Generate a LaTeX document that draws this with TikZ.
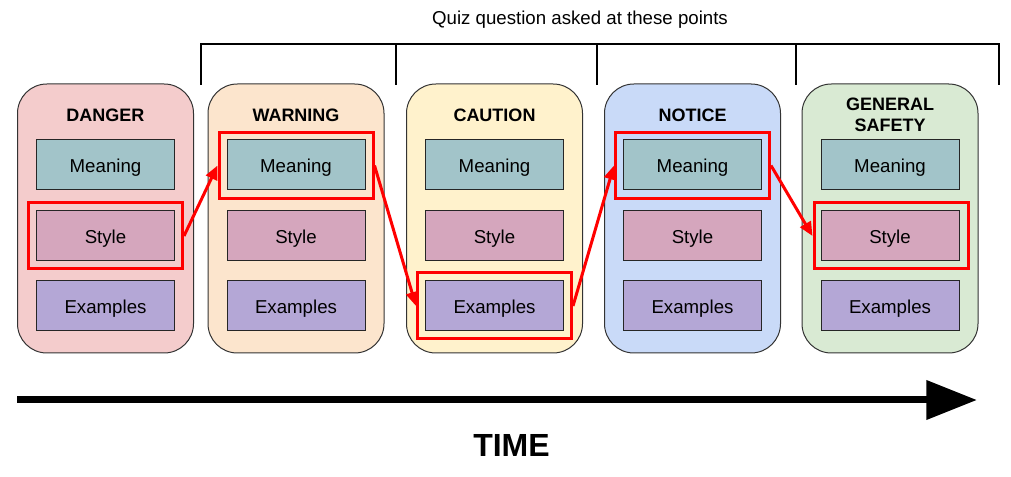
\documentclass[tikz,border=0pt]{standalone}
\usepackage{fontspec}
\setmainfont{Liberation Sans}
\usetikzlibrary{arrows.meta}
\definecolor{dangerbg}{HTML}{F4CCCC}
\definecolor{warningbg}{HTML}{FCE5CD}
\definecolor{cautionbg}{HTML}{FFF2CC}
\definecolor{noticebg}{HTML}{C9DAF8}
\definecolor{generalbg}{HTML}{D9EAD3}
\definecolor{meaningc}{HTML}{A2C4C9}
\definecolor{stylec}{HTML}{D5A6BD}
\definecolor{examplec}{HTML}{B4A7D6}
\begin{document}
\begin{tikzpicture}[x=0.75pt, y=-0.75pt,
    sign/.style = {draw=black!80, fill=#1, rounded corners=22pt, line width=0.75pt, minimum width=132pt, minimum height=201.75pt},
    cell/.style = {draw=black!85, fill=#1, line width=0.75pt, minimum width=103.5pt, minimum height=37.5pt, text height=12pt, text depth=0pt, font=\fontsize{14}{16}\selectfont},
    signname/.style = {font=\fontsize{13.5}{15.75}\selectfont\bfseries, align=center},
    hilite/.style = {draw=red, line width=2.25pt, minimum width=115.5pt, minimum height=49.5pt},
    jump/.style = {draw=red, line width=2.25pt, -{Triangle[length=10.5pt, width=9pt]}}
    ]
    \useasboundingbox (0,0) rectangle (1011,477);

    % DANGER
    \node[sign=dangerbg] (danger) at (105.5,218.5) {};
    \node[signname] (t0) at (105.5,115) {DANGER};
    \node[cell=meaningc] (m0) at (105.5,165) {Meaning};
    \node[cell=stylec] (s0) at (105.5,235.5) {Style};
    \node[cell=examplec] (e0) at (105.5,305.5) {Examples};

    % WARNING
    \node[sign=warningbg] (warning) at (296,218.5) {};
    \node[signname] (t1) at (296,115) {WARNING};
    \node[cell=meaningc] (m1) at (296,165) {Meaning};
    \node[cell=stylec] (s1) at (296,235.5) {Style};
    \node[cell=examplec] (e1) at (296,305.5) {Examples};

    % CAUTION
    \node[sign=cautionbg] (caution) at (494.5,218.5) {};
    \node[signname] (t2) at (494.5,115) {CAUTION};
    \node[cell=meaningc] (m2) at (494.5,165) {Meaning};
    \node[cell=stylec] (s2) at (494.5,235.5) {Style};
    \node[cell=examplec] (e2) at (494.5,305.5) {Examples};

    % NOTICE
    \node[sign=noticebg] (notice) at (692.5,218.5) {};
    \node[signname] (t3) at (692.5,115) {NOTICE};
    \node[cell=meaningc] (m3) at (692.5,165) {Meaning};
    \node[cell=stylec] (s3) at (692.5,235.5) {Style};
    \node[cell=examplec] (e3) at (692.5,305.5) {Examples};

    % GENERAL SAFETY
    \node[sign=generalbg] (general) at (890,218.5) {};
    \node[signname] (t4) at (890,115) {GENERAL\\SAFETY};
    \node[cell=meaningc] (m4) at (890,165) {Meaning};
    \node[cell=stylec] (s4) at (890,235.5) {Style};
    \node[cell=examplec] (e4) at (890,305.5) {Examples};

    % highlighted parts
    \node[hilite] (h0) at (105.5,236) {};
    \node[hilite] (h1) at (296,165.5) {};
    \node[hilite] (h2) at (494.5,306) {};
    \node[hilite] (h3) at (692.5,165.5) {};
    \node[hilite] (h4) at (891,236) {};

    \draw[jump] (h0.east) -- (h1.west);
    \draw[jump] (h1.east) -- (h2.west);
    \draw[jump] (h2.east) -- (h3.west);
    \draw[jump] (h3.east) -- (h4.west);

    % quiz points
    \node (quiz) at (580,20) {\fontsize{14}{16}\selectfont Quiz question asked at these points};
    \draw[line width=1.5pt] (201,85) -- (201,44) -- (999,44) -- (999,85);
    \draw[line width=1.5pt] (396,44) -- (396,85);
    \draw[line width=1.5pt] (597,44) -- (597,85);
    \draw[line width=1.5pt] (796,44) -- (796,85);

    % time axis
    \coordinate (tstart) at (17,400);
    \coordinate (tend) at (977,400);
    \draw[line width=5.25pt, -{Triangle[length=38pt, width=28.5pt]}] (tstart) -- (tend);
    \node[font=\fontsize{24}{28}\selectfont\bfseries] (time) at (511.5,445.5) {TIME};
\end{tikzpicture}
\end{document}
